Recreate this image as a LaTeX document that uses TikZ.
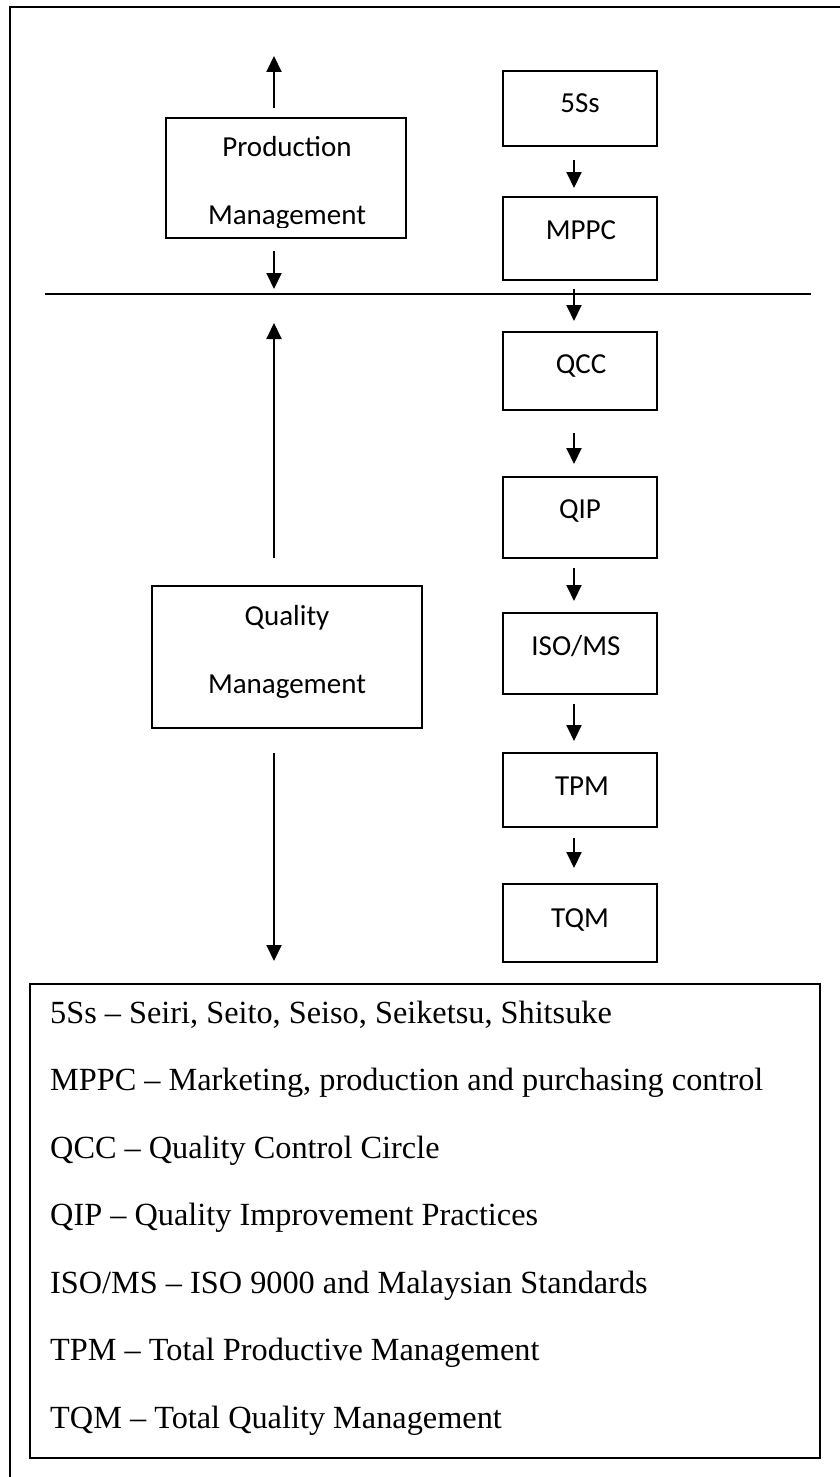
\documentclass[tikz,border=0pt]{standalone}
\usepackage{fontspec}
\setmainfont{Liberation Serif}
\newfontfamily\boxfont{Carlito}
\usetikzlibrary{arrows.meta}
\begin{document}
\begin{tikzpicture}[x=1pt,y=-1pt,
  frame/.style={line width=2.6pt},
  boxnode/.style={draw,line width=2pt,rectangle,inner sep=0pt},
  boxlabel/.style={anchor=base,inner sep=0pt,font=\boxfont\fontsize{29}{35}\selectfont},
  legtext/.style={anchor=base west,inner sep=0pt,font=\fontsize{32.3}{38}\selectfont},
  arr/.style={line width=2pt,-{Triangle[length=16pt,width=15pt]}},
  divider/.style={line width=2pt}]
\useasboundingbox (0,0) rectangle (840,1477);
\fill[white] (0,0) rectangle (840,1477);

% outer frame (top and left edges visible)
\coordinate (fr) at (840,7);
\coordinate (ftl) at (10,7);
\coordinate (fb) at (10,1477);
\draw[frame] (fr) -- (ftl) -- (fb);

% divider line
\coordinate (dl) at (45,294);
\coordinate (dr) at (811,294);
\draw[divider] (dl) -- (dr);

% Production Management
\node[boxnode,minimum width=240pt,minimum height=120pt] (prod) at (286,178) {};
\node[boxlabel] (prodA) at (287,157) {Production};
\begin{scope}
\clip (166,118) rectangle (406,227);
\node[boxlabel] (prodB) at (287,224) {Management};
\end{scope}

% Quality Management
\node[boxnode,minimum width=270pt,minimum height=142pt] (qual) at (287,657) {};
\node[boxlabel] (qualA) at (287,625) {Quality};
\node[boxlabel] (qualB) at (287,693) {Management};

% right column
\node[boxnode,minimum width=154pt,minimum height=75pt] (s5) at (580,108.5) {};
\node[boxlabel] (s5t) at (580,113) {5Ss};
\node[boxnode,minimum width=154pt,minimum height=83pt] (mppc) at (580,238.5) {};
\node[boxlabel] (mppct) at (581,239) {MPPC};
\node[boxnode,minimum width=154pt,minimum height=78pt] (qcc) at (580,371) {};
\node[boxlabel] (qcct) at (581,373) {QCC};
\node[boxnode,minimum width=154pt,minimum height=81pt] (qip) at (580,517.5) {};
\node[boxlabel] (qipt) at (580,518) {QIP};
\node[boxnode,minimum width=154pt,minimum height=81pt] (iso) at (580,653.5) {};
\node[boxlabel] (isot) at (576,655) {ISO/MS};
\node[boxnode,minimum width=154pt,minimum height=74pt] (tpm) at (580,790) {};
\node[boxlabel] (tpmt) at (582,795) {TPM};
\node[boxnode,minimum width=154pt,minimum height=78pt] (tqm) at (580,923) {};
\node[boxlabel] (tqmt) at (580,927) {TQM};

% right column arrows
\draw[arr] ([yshift=-13pt]s5.south -| 574,0) -- ([yshift=8pt]mppc.north -| 574,0);
\coordinate (m1) at (574,289);
\coordinate (m2) at (574,321);
\draw[arr] (m1) -- (m2);
\draw[arr] ([yshift=-22pt]qcc.south -| 574,0) -- ([yshift=12pt]qip.north -| 574,0);
\draw[arr] ([yshift=-9pt]qip.south -| 574,0) -- ([yshift=11pt]iso.north -| 574,0);
\draw[arr] ([yshift=-9pt]iso.south -| 574,0) -- ([yshift=11pt]tpm.north -| 574,0);
\draw[arr] ([yshift=-10pt]tpm.south -| 574,0) -- ([yshift=15pt]tqm.north -| 574,0);

% left column arrows
\coordinate (pu1) at (274,108);
\coordinate (pu2) at (274,56);
\draw[arr] (pu1) -- (pu2);
\coordinate (pd1) at (274,251);
\coordinate (pd2) at (274,289);
\draw[arr] (pd1) -- (pd2);
\coordinate (qu1) at (274,558);
\coordinate (qu2) at (274,323);
\draw[arr] (qu1) -- (qu2);
\coordinate (qd1) at (274,753);
\coordinate (qd2) at (274,961);
\draw[arr] (qd1) -- (qd2);

% legend
\node[boxnode,minimum width=790pt,minimum height=474pt] (legend) at (425,1221) {};
\node[legtext] (l1) at (50,1023) {5Ss – Seiri, Seito, Seiso, Seiketsu, Shitsuke};
\node[legtext] (l2) at (50,1090.5) {MPPC – Marketing, production and purchasing control};
\node[legtext] (l3) at (50,1158) {QCC – Quality Control Circle};
\node[legtext] (l4) at (50,1225.5) {QIP – Quality Improvement Practices};
\node[legtext] (l5) at (50,1293) {ISO/MS – ISO 9000 and Malaysian Standards};
\node[legtext] (l6) at (50,1360.5) {TPM – Total Productive Management};
\node[legtext] (l7) at (50,1428) {TQM – Total Quality Management};
\end{tikzpicture}
\end{document}
